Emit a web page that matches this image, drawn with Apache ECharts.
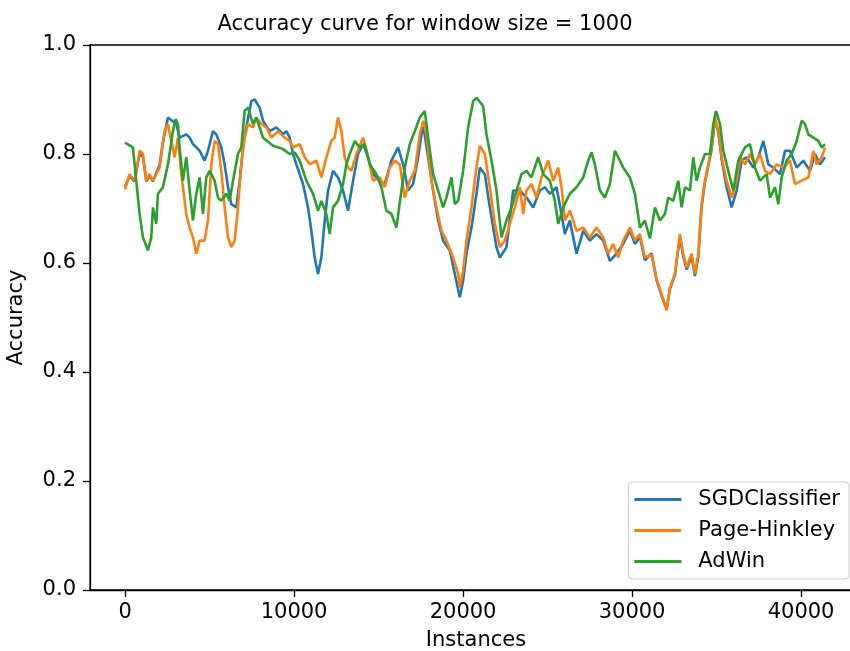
<!DOCTYPE html>
<html>
<head>
<meta charset="utf-8">
<script src="https://cdn.jsdelivr.net/npm/echarts@6/dist/echarts.min.js"></script>
<style>html,body{margin:0;padding:0;background:#fff;}#chart{width:850px;height:651px;}</style>
</head>
<body>
<div id="chart"></div>
<script>
const titleText = 'Accuracy curve for window size = 1000';
const seriesNames = ['SGDClassifier', 'Page-Hinkley', 'AdWin'];
const xTicks = [0, 10000, 20000, 30000, 40000];
const yTicks = [0, 0.2, 0.4, 0.6, 0.8, 1.0];

const sgdX = [0,266,562,859,1056,1254,1451,1648,1845,2043,2200,2536,3030,3227,3622,3819,4017,4411,4707,4905,5201,5398,5694,5891,6089,6286,6582,6780,6977,7174,7470,7668,7964,8161,8556,8951,9345,9543,9740,9938,10135,10530,10825,11023,11220,11418,11615,11812,12010,12305,12601,12897,13193,13489,13786,14082,14378,14674,15069,15365,15760,16155,16451,16747,17043,17339,17635,17931,18227,18524,18820,19215,19511,19807,20004,20201,20497,20794,20991,21287,21583,21977,22175,22569,22964,23359,23754,24149,24543,24839,25135,25530,25826,26023,26319,26714,27109,27503,27898,28292,28687,29081,29476,29871,30168,30464,30760,31155,31451,31747,32043,32240,32536,32832,33030,33227,33523,33721,33918,34116,34313,34510,34708,34905,35102,35300,35596,35892,36188,36484,36780,37174,37471,37767,38063,38359,38754,39050,39346,39741,40135,40530,40826,41122,41418];
const sgdY = [0.74,0.76,0.75,0.80,0.795,0.75,0.76,0.75,0.765,0.78,0.815,0.867,0.855,0.830,0.836,0.830,0.818,0.806,0.788,0.806,0.842,0.836,0.812,0.781,0.739,0.708,0.702,0.751,0.812,0.849,0.897,0.900,0.885,0.861,0.842,0.849,0.836,0.842,0.830,0.800,0.781,0.745,0.702,0.659,0.610,0.580,0.610,0.678,0.733,0.769,0.757,0.733,0.696,0.751,0.800,0.818,0.794,0.763,0.751,0.745,0.788,0.812,0.781,0.733,0.745,0.794,0.855,0.794,0.733,0.678,0.641,0.623,0.580,0.537,0.568,0.617,0.665,0.727,0.775,0.763,0.702,0.629,0.610,0.629,0.733,0.733,0.720,0.702,0.733,0.739,0.727,0.739,0.690,0.653,0.678,0.617,0.659,0.641,0.653,0.641,0.604,0.617,0.635,0.660,0.635,0.648,0.605,0.618,0.568,0.540,0.515,0.552,0.578,0.648,0.612,0.588,0.612,0.576,0.612,0.704,0.748,0.778,0.808,0.864,0.840,0.790,0.739,0.702,0.733,0.788,0.794,0.775,0.794,0.824,0.781,0.775,0.763,0.806,0.806,0.775,0.788,0.769,0.800,0.781,0.794];

const phX = [0,266,562,859,1056,1254,1451,1648,1845,2043,2200,2339,2536,2733,2931,3128,3325,3622,3819,4017,4214,4411,4707,4905,5102,5299,5497,5694,5891,6089,6286,6484,6681,6878,7076,7273,7569,7767,8063,8358,8654,9049,9444,9740,9938,10332,10628,10924,11319,11615,11911,12207,12404,12601,12799,12996,13193,13391,13687,14082,14378,14674,15069,15365,15661,15958,16254,16550,16846,17142,17438,17635,17832,18128,18424,18721,19017,19412,19708,19807,20004,20201,20497,20794,20991,21287,21583,21879,22175,22471,22767,23063,23359,23556,23754,24050,24346,24642,25037,25332,25628,25826,26023,26319,26714,27109,27503,27898,28292,28588,28884,29180,29476,29871,30168,30464,30760,31155,31451,31747,32043,32240,32536,32832,33030,33227,33523,33721,33918,34116,34313,34510,34708,34905,35102,35300,35596,35892,36188,36385,36681,36977,37273,37569,37866,38162,38557,38952,39346,39642,40037,40431,40727,40924,41220,41418];
const phY = [0.735,0.763,0.751,0.806,0.800,0.751,0.763,0.751,0.763,0.775,0.812,0.842,0.855,0.824,0.794,0.830,0.763,0.690,0.665,0.647,0.617,0.641,0.641,0.678,0.781,0.824,0.818,0.769,0.702,0.647,0.629,0.641,0.702,0.781,0.830,0.855,0.849,0.867,0.855,0.849,0.830,0.842,0.830,0.824,0.812,0.818,0.794,0.781,0.788,0.757,0.794,0.824,0.830,0.867,0.842,0.794,0.775,0.769,0.800,0.830,0.794,0.751,0.757,0.739,0.775,0.788,0.781,0.720,0.751,0.769,0.836,0.861,0.836,0.751,0.702,0.659,0.641,0.610,0.580,0.555,0.586,0.641,0.702,0.775,0.815,0.800,0.739,0.672,0.629,0.641,0.672,0.702,0.739,0.690,0.733,0.745,0.720,0.757,0.788,0.751,0.775,0.739,0.678,0.696,0.659,0.665,0.647,0.665,0.647,0.617,0.635,0.610,0.641,0.665,0.641,0.653,0.610,0.615,0.570,0.543,0.513,0.555,0.580,0.653,0.617,0.592,0.617,0.580,0.617,0.708,0.751,0.781,0.812,0.867,0.842,0.794,0.751,0.720,0.751,0.794,0.781,0.800,0.781,0.800,0.769,0.763,0.781,0.775,0.788,0.745,0.751,0.757,0.806,0.781,0.794,0.812];

const adwX = [0,463,660,859,1056,1352,1549,1648,1845,1944,2240,2536,2832,2990,3128,3227,3424,3622,3819,4017,4214,4411,4608,4806,5003,5299,5497,5694,5990,6188,6385,6681,6878,7076,7273,7569,7767,8161,8753,9345,9740,10036,10332,10727,11122,11418,11615,11911,12108,12305,12601,12897,13095,13292,13589,13885,14181,14477,14872,15168,15464,15760,16056,16352,16550,16846,17142,17438,17734,17931,18227,18524,18820,19017,19314,19511,19708,20004,20300,20596,20794,21187,21385,21681,21977,22273,22569,22866,23162,23458,23754,24050,24445,24741,25135,25431,25628,25924,26319,26714,27109,27405,27602,27800,28095,28391,28687,28983,29180,29476,29871,30168,30464,30760,31056,31352,31648,31944,32142,32438,32734,32931,33129,33425,33622,33819,34017,34313,34609,34806,34964,35201,35398,35694,35990,36286,36681,36977,37273,37569,37964,38162,38458,38655,38852,39148,39445,39741,40037,40234,40431,40727,41023,41220,41418];
const adwY = [0.821,0.812,0.751,0.690,0.647,0.623,0.647,0.702,0.672,0.727,0.739,0.781,0.842,0.864,0.855,0.812,0.751,0.794,0.733,0.678,0.727,0.757,0.690,0.757,0.769,0.751,0.720,0.714,0.727,0.714,0.751,0.800,0.812,0.879,0.885,0.855,0.867,0.830,0.815,0.809,0.800,0.803,0.788,0.751,0.727,0.696,0.714,0.690,0.653,0.702,0.714,0.745,0.781,0.800,0.824,0.812,0.818,0.781,0.763,0.739,0.696,0.690,0.665,0.733,0.775,0.818,0.842,0.867,0.879,0.830,0.763,0.733,0.702,0.720,0.757,0.708,0.714,0.769,0.849,0.897,0.903,0.888,0.836,0.788,0.733,0.647,0.678,0.702,0.733,0.763,0.769,0.757,0.794,0.763,0.751,0.714,0.672,0.702,0.727,0.739,0.757,0.788,0.803,0.781,0.733,0.720,0.745,0.806,0.794,0.775,0.757,0.727,0.665,0.678,0.645,0.702,0.678,0.690,0.720,0.714,0.751,0.702,0.739,0.733,0.794,0.751,0.775,0.800,0.800,0.855,0.879,0.855,0.806,0.769,0.733,0.788,0.812,0.818,0.775,0.751,0.763,0.720,0.739,0.708,0.757,0.788,0.800,0.824,0.861,0.855,0.836,0.830,0.824,0.812,0.818];

const colors = ['#1f77b4', '#ff7f0e', '#2ca02c'];
const FONT = 'DejaVu Sans';

function pairs(xs, ys) {
  const n = Math.min(xs.length, ys.length);
  const out = [];
  for (let i = 0; i < n; i++) out.push([xs[i], ys[i]]);
  return out;
}

const chart = echarts.init(document.getElementById('chart'), null, {renderer: 'canvas'});
const axisLineStyle = {color: '#000', width: 1.3};
chart.setOption({
  animation: false,
  backgroundColor: '#fff',
  textStyle: {fontFamily: FONT, color: '#000'},
  title: {
    text: titleText,
    left: 'center',
    top: 9,
    textStyle: {fontFamily: FONT, fontSize: 21, fontWeight: 'normal', color: '#000'}
  },
  grid: {left: 90, top: 45, right: -12, bottom: 61, show: true, borderColor: '#000', borderWidth: 1.3,
    containLabel: false, outerBoundsMode: 'none'},
  legend: {
    orient: 'vertical',
    right: 1,
    bottom: 72,
    data: seriesNames,
    icon: 'rect',
    itemWidth: 47,
    itemHeight: 3,
    itemGap: 10,
    padding: [7, 9, 7, 6],
    borderColor: '#d0d0d0',
    borderWidth: 1,
    borderRadius: 4,
    backgroundColor: 'rgba(255,255,255,0.8)',
    textStyle: {fontFamily: FONT, fontSize: 21, color: '#000', padding: [0, 0, 0, 12]}
  },
  xAxis: {
    type: 'value',
    min: -2076,
    max: 43606,
    name: 'Instances',
    nameLocation: 'middle',
    nameGap: 40,
    nameTextStyle: {fontFamily: FONT, fontSize: 21, color: '#000'},
    axisLine: {show: true, onZero: false, lineStyle: axisLineStyle},
    axisTick: {show: true, length: 7, lineStyle: axisLineStyle, customValues: xTicks},
    axisLabel: {fontFamily: FONT, fontSize: 21, color: '#000', margin: 12, customValues: xTicks,
      formatter: v => String(v)},
    splitLine: {show: false}
  },
  yAxis: {
    type: 'value',
    min: 0,
    max: 1,
    interval: 0.2,
    name: 'Accuracy',
    nameLocation: 'middle',
    nameGap: 63,
    nameRotate: 90,
    nameTextStyle: {fontFamily: FONT, fontSize: 21, color: '#000'},
    axisLine: {show: true, onZero: false, lineStyle: axisLineStyle},
    axisTick: {show: true, length: 7, lineStyle: axisLineStyle},
    axisLabel: {fontFamily: FONT, fontSize: 21, color: '#000', margin: 14,
      formatter: v => yTicks.some(t => Math.abs(t - v) < 1e-9) ? v.toFixed(1) : ''},
    splitLine: {show: false}
  },
  series: [
    {name: seriesNames[0], type: 'line', data: pairs(sgdX, sgdY), showSymbol: false, symbol: 'none', color: colors[0], lineStyle: {width: 2.6, color: colors[0]}, z: 2},
    {name: seriesNames[1], type: 'line', data: pairs(phX, phY), showSymbol: false, symbol: 'none', color: colors[1], lineStyle: {width: 2.6, color: colors[1]}, z: 3},
    {name: seriesNames[2], type: 'line', data: pairs(adwX, adwY), showSymbol: false, symbol: 'none', color: colors[2], lineStyle: {width: 2.6, color: colors[2]}, z: 4}
  ]
});
</script>
</body>
</html>
